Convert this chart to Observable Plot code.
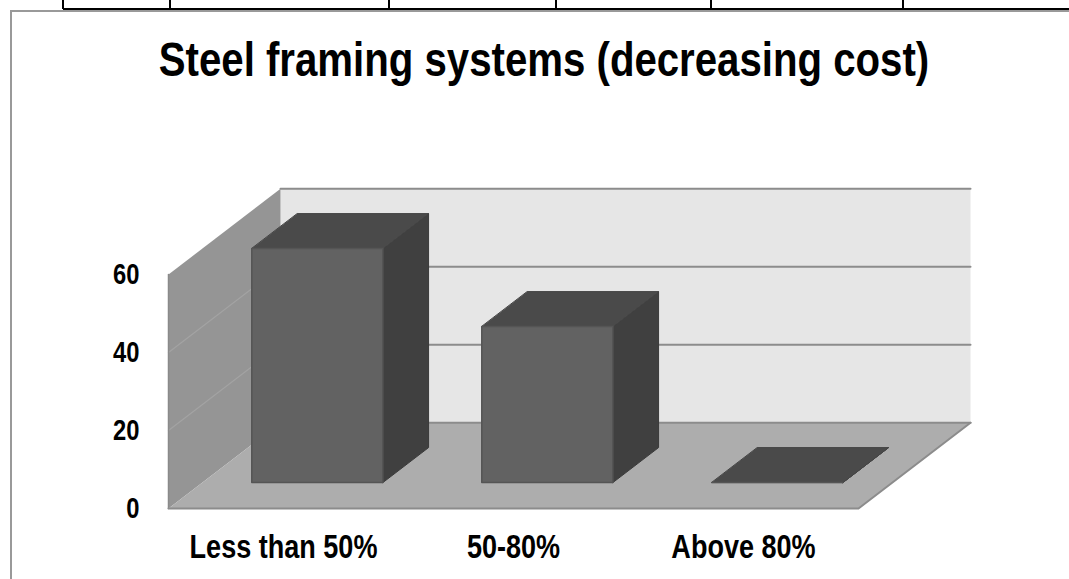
<!DOCTYPE html>
<html>
<head>
<meta charset="utf-8">
<script src="https://cdn.jsdelivr.net/npm/d3@7"></script>
<script src="https://cdn.jsdelivr.net/npm/@observablehq/plot@0.6"></script>
<style>
  html, body { margin: 0; padding: 0; background: #fff; }
  body {
    width: 1069px; height: 579px; overflow: hidden; position: relative;
    font-family: "Liberation Sans", Arial, sans-serif;
  }
  .blk { position: absolute; background: #000; }
  .gry { position: absolute; background: #999; }
  #title {
    position: absolute; top: 35px; left: 44px; width: 1000px;
    text-align: center; font-size: 49px; line-height: 49px; font-weight: bold; color: #000;
    transform: scaleX(0.82); transform-origin: 50% 50%; white-space: nowrap;
  }
  #chart { position: absolute; top: 100px; left: 0; }
</style>
</head>
<body>
<div id="deco"></div>
<div id="title"></div>
<div id="chart"></div>
<script>
// ---- data ----
const title = "Steel framing systems (decreasing cost)";
const categories = ["Less than 50%", "50-80%", "Above 80%"];
const values = [60, 40, 0];
const yTicks = [0, 20, 40, 60];

// ---- page decoration (table border above chart, chart frame) ----
const deco = document.getElementById("deco");
function box(cls, l, t, w, h) {
  const d = document.createElement("div");
  d.className = cls;
  Object.assign(d.style, {left: l + "px", top: t + "px", width: w + "px", height: h + "px"});
  deco.appendChild(d);
}
box("blk", 63, 8, 1069 - 63, 2);
[63, 170, 389, 556, 711, 903].forEach(x => box("blk", x - 1, 0, 2, 9));
box("gry", 10, 10, 1069 - 10, 2);
box("gry", 10, 10, 2, 579 - 10);

document.getElementById("title").textContent = title;

// ---- 3D oblique geometry (layout) ----
const n = categories.length;
const yMax = d3.max(yTicks);
const DX = 0.487, DY = 22;      // full depth of floor in (category, value) units
const HALF = 0.285;             // half bar width in category units
const F = 0.302, B = 0.71;      // bar front/back depth fractions

let pid = 0;
function poly(pts) { const id = pid++; return pts.map(([x, y]) => ({id, x, y})); }

const backWall = poly([[DX, DY], [n + DX, DY], [n + DX, yMax + DY], [DX, yMax + DY]]);
const sideWall = poly([[0, 0], [0, yMax], [DX, yMax + DY], [DX, DY]]);
const floor = poly([[0, 0], [n, 0], [n + DX, DY], [DX, DY]]);
const floorEdge = poly([[0, 0], [n, 0], [n + DX, DY]]);
const sideEdge = poly([[0, 0], [0, yMax]]);
const backGrid = yTicks.flatMap(t => poly([[DX, t + DY], [n + DX, t + DY]]));
const sideGrid = yTicks.filter(t => t > 0 && t < yMax).flatMap(t => poly([[0, t], [DX, t + DY]]));

const bdx = (B - F) * DX, bdy = (B - F) * DY, y0 = F * DY;
const fronts = [], tops = [], sides = [];
values.forEach((v, i) => {
  const x1 = i + 0.5 - HALF + F * DX, x2 = i + 0.5 + HALF + F * DX;
  fronts.push(...poly([[x1, y0], [x2, y0], [x2, y0 + v], [x1, y0 + v]]));
  tops.push(...poly([[x1, y0 + v], [x2, y0 + v], [x2 + bdx, y0 + v + bdy], [x1 + bdx, y0 + v + bdy]]));
  sides.push(...poly([[x2, y0], [x2 + bdx, y0 + bdy], [x2 + bdx, y0 + v + bdy], [x2, y0 + v]]));
});

const face = (data, fill, stroke, sw) =>
  Plot.line(data, {x: "x", y: "y", z: "id", fill, stroke: stroke || "none", strokeWidth: sw || 1, curve: "linear-closed"});
const edge = (data, stroke, sw) =>
  Plot.line(data, {x: "x", y: "y", z: "id", stroke, strokeWidth: sw, fill: "none"});

const chart = Plot.plot({
  width: 1069,
  height: 479,
  marginLeft: 168, marginRight: 211, marginTop: 174, marginBottom: 71,
  x: {domain: [0, n], axis: null},
  y: {domain: [0, yMax]},
  style: {fontFamily: '"Liberation Sans", Arial, sans-serif', background: "transparent", overflow: "visible", color: "#000"},
  marks: [
    face(backWall, "#e6e6e6"),
    face(sideWall, "#959595"),
    face(floor, "#adadad"),
    edge(backGrid, "#8c8c8c", 2),
    edge(sideGrid, "#a3a3a3", 1.2),
    edge(sideEdge, "#8a8a8a", 1.5),
    edge(floorEdge, "#8c8c8c", 2),
    face(sides, "#404040", "#3a3a3a", 1),
    face(tops, "#4a4a4a", "#454545", 1),
    face(fronts, "#626262", "#555555", 1.5),
    Plot.axisY({ticks: yTicks, tickSize: 0, tickPadding: 29, label: null,
                fontSize: 29, fontWeight: "bold", fill: "#000"}),
    Plot.text(categories, {x: (d, i) => i + 0.5, y: () => 0, text: d => d,
                           dy: 49, lineAnchor: "bottom", fontSize: 33, fontWeight: "bold", fill: "#000"})
  ]
});

// narrow the Liberation Sans glyphs horizontally (Arial Narrow look), keeping each anchor point
d3.select(chart).selectAll("text").each(function() {
  const t = this.getAttribute("transform");
  if (t) {
    this.setAttribute("transform", t + " scale(0.82,1)");
  } else {
    const x = +this.getAttribute("x") || 0, y = +this.getAttribute("y") || 0;
    this.removeAttribute("x"); this.removeAttribute("y");
    this.setAttribute("transform", `translate(${x},${y}) scale(0.82,1)`);
  }
});
document.getElementById("chart").appendChild(chart);
</script>
</body>
</html>
